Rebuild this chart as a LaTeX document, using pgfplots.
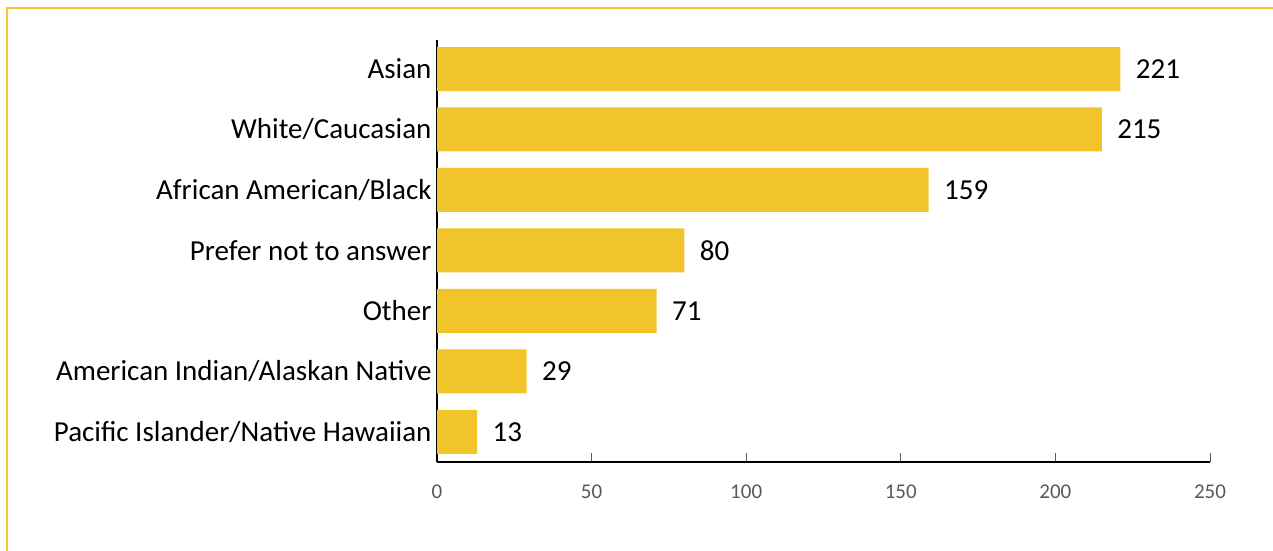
\documentclass[border=0pt]{standalone}
\usepackage{fontspec}
\setmainfont{Carlito}
\usepackage{pgfplots}
\pgfplotsset{compat=1.18}
\definecolor{barc}{HTML}{F0C42A}
\definecolor{framec}{HTML}{F5C730}
\definecolor{tickc}{HTML}{595959}
\begin{document}
\begin{tikzpicture}[x=1pt,y=1pt]
\path[use as bounding box] (0,0) rectangle (1273,550);
\draw[framec, line width=1.5pt] (7,-5) -- (7,542) -- (1280,542);
\begin{axis}[at={(437pt,88pt)}, anchor=south west, scale only axis,
  width=773pt, height=422pt,
  xbar, bar width=44pt,
  xmin=0, xmax=250, ymin=-0.5, ymax=6.48,
  axis x line*=bottom, axis y line*=left,
  axis line style={black, line width=1.1pt, -},
  xtick={0,50,...,250},
  ytick={0,...,6},
  yticklabels={Pacific Islander/Native Hawaiian, American Indian/Alaskan Native, Other, Prefer not to answer, African American/Black, White/Caucasian, Asian},
  yticklabel style={font=\fontsize{29}{33}\selectfont, black, xshift=-2pt},
  xticklabel style={font=\fontsize{21}{24}\selectfont, text=tickc, yshift=-19pt},
  /pgf/number format/assume math mode=true,
  tick align=inside, major tick length=9pt,
  x tick style={tickc, line width=1pt},
  y tick style={draw=none},
  nodes near coords,
  nodes near coords style={font=\fontsize{29}{33}\selectfont, black, xshift=12pt},
  point meta=x,
]
\addplot[fill=barc, draw=none] coordinates {
  (13,0) (29,1) (71,2) (80,3) (159,4) (215,5) (221,6)
};
\end{axis}
\end{tikzpicture}
\end{document}
